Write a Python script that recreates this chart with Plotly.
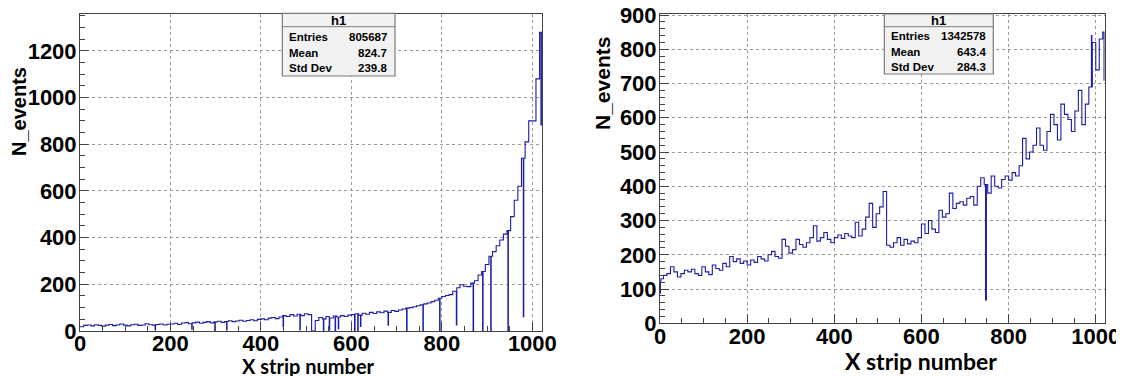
import numpy as np
import plotly.graph_objects as go

# ---------------- data (counts per 8-strip group) -------------
BIN = 8
left_counts = [
    18, 24, 26, 22, 27, 24, 21, 25, 28, 23, 26, 30, 25, 22, 27, 29,
    24, 26, 31, 27, 25, 28, 30, 26, 29, 30, 33, 28, 34, 36, 31, 35,
    38, 33, 37, 40, 35, 39, 42, 37, 41, 44, 40, 43, 46, 42, 45, 48,
    44, 50, 52, 48, 55, 58, 53, 60, 66, 62, 70, 64, 72, 66, 74, 70,
    0, 45, 58, 52, 62, 56, 64, 60, 66, 62, 68, 70, 74, 68, 76, 72,
    80, 75, 82, 78, 85, 80, 88, 84, 90, 94, 98, 100, 104, 108, 112, 116,
    120, 126, 132, 140, 148, 152, 156, 170, 185, 198, 192, 190, 205, 215, 240, 255,
    285, 320, 340, 365, 390, 415, 430, 490, 560, 620, 740, 810, 900, 900, 1080, 1280,
]
left_dip_strips = [166, 247, 298, 324, 449, 486, 538, 551, 564, 571, 607, 614, 620,
                   681, 722, 758, 795, 832, 869, 890, 908, 946, 980, 1019]
left_dip_values = [5, 8, 0, 5, 20, 5, 0, 5, 0, 10, 0, 0, 20,
                   25, 0, 0, 0, 26, 0, 0, 0, 0, 61, 883]

right_counts = [
    130, 140, 145, 165, 150, 135, 145, 155, 150, 158, 145, 140, 165, 150, 142, 170,
    160, 155, 175, 165, 195, 180, 188, 175, 182, 170, 185, 178, 195, 188, 182, 200,
    210, 195, 190, 245, 225, 205, 215, 245, 230, 222, 235, 250, 285, 240, 250, 265,
    245, 235, 250, 258, 248, 262, 255, 250, 295, 255, 275, 310, 350, 280, 320, 340,
    385, 228, 222, 235, 250, 228, 245, 232, 240, 235, 250, 290, 262, 300, 275, 265,
    330, 310, 320, 380, 335, 350, 355, 345, 365, 370, 345, 400, 425, 405, 380, 430,
    400, 395, 420, 430, 418, 440, 430, 460, 540, 480, 500, 520, 570, 520, 505, 560,
    610, 580, 535, 640, 610, 595, 560, 620, 680, 580, 640, 690, 820, 740, 830, 850,
]
right_dip_strips = [0, 1, 747, 748, 990, 1019]
right_dip_values = [88, 120, 68, 68, 840, 710]

left_stats = [("Entries", "805687"), ("Mean", "824.7"), ("Std Dev", "239.8")]
right_stats = [("Entries", "1342578"), ("Mean", "643.4"), ("Std Dev", "284.3")]

x_title = "X strip number"
y_title = "N_events"

# ---------------- build histograms ----------------
def build(counts, strips, values):
    y = np.repeat(np.array(counts, dtype=float), BIN)
    for s, v in zip(strips, values):
        y[s] = v
    x = np.arange(len(y) + 1)
    y = np.append(y, y[-1])
    return x, y

# the page body has an 8px margin: size the figure so it fills the window
OFF = 8
W, H = 1124 - OFF, 376 - OFF
LINE = "#1c1ca6"
AXC = "#444444"


def px(x):
    return (x - OFF) / W


def py(y):
    return 1 - (y - OFF) / H


fig = go.Figure()
lx, ly = build(left_counts, left_dip_strips, left_dip_values)
rx, ry = build(right_counts, right_dip_strips, right_dip_values)
fig.add_trace(go.Scatter(x=lx, y=ly, mode="lines", line=dict(shape="hv", color=LINE, width=1.1),
                         xaxis="x", yaxis="y", showlegend=False, hoverinfo="skip"))
fig.add_trace(go.Scatter(x=rx, y=ry, mode="lines", line=dict(shape="hv", color=LINE, width=1.1),
                         xaxis="x2", yaxis="y2", showlegend=False, hoverinfo="skip"))

tickfont = dict(family="Liberation Sans, Arial, sans-serif", size=22, color="black", weight="bold")


def xax(domain, rng, anchor):
    return dict(domain=domain, range=rng, anchor=anchor, showline=True, mirror=True,
                automargin=False, ticklabelstandoff=-7, ticklabeloverflow="allow",
                linecolor=AXC, linewidth=1, ticks="inside", ticklen=9, tickwidth=1,
                tickcolor=AXC, tick0=0, dtick=200, showgrid=True, gridcolor="#9a9a9a",
                griddash="dot", gridwidth=1, zeroline=False, tickfont=tickfont,
                minor=dict(ticks="inside", ticklen=5, dtick=50, tick0=0, tickcolor=AXC,
                           showgrid=False))


def yax(domain, rng, anchor, dtick, mdtick):
    return dict(domain=domain, range=rng, anchor=anchor, showline=True, mirror=True,
                automargin=False, ticklabelstandoff=-2, ticklabeloverflow="allow",
                linecolor=AXC, linewidth=1, ticks="inside", ticklen=9, tickwidth=1,
                tickcolor=AXC, tick0=0, dtick=dtick, showgrid=True, gridcolor="#9a9a9a",
                griddash="dot", gridwidth=1, zeroline=False, tickfont=tickfont,
                minor=dict(ticks="inside", ticklen=5, dtick=mdtick, tick0=0, tickcolor=AXC,
                           showgrid=False))


fig.update_layout(
    width=W, height=H, margin=dict(l=0, r=0, t=0, b=0, autoexpand=False),
    paper_bgcolor="white", plot_bgcolor="white",
    xaxis=xax([px(80), px(542.3)], [0, 1022], "y"),
    yaxis=yax([py(331), py(14)], [0, 1358], "x", 200, 50),
    xaxis2=xax([px(660), px(1104.5)], [0, 1020], "y2"),
    yaxis2=yax([py(323.3), py(14)], [0, 903], "x2", 100, 20),
)

shapes = []
annotations = []

# axis titles
title_font = dict(family="Lato, Open Sans, sans-serif", size=20, color="black", weight="bold")
annotations.append(dict(text=x_title, x=px(308), y=py(366), xref="paper", yref="paper",
                        showarrow=False, font=title_font, xanchor="center", yanchor="middle"))
annotations.append(dict(text=x_title, x=px(921), y=py(361), xref="paper", yref="paper",
                        showarrow=False, font=dict(title_font, size=23), xanchor="center",
                        yanchor="middle"))
yfont = dict(family="Liberation Sans, Arial, sans-serif", size=20, color="black", weight="bold")
annotations.append(dict(text=y_title, x=px(19), y=py(112), xref="paper", yref="paper",
                        showarrow=False, font=yfont, textangle=-90, xanchor="center",
                        yanchor="middle"))
annotations.append(dict(text=y_title, x=px(602), y=py(84), xref="paper", yref="paper",
                        showarrow=False, font=dict(yfont, size=21), textangle=-90,
                        xanchor="center", yanchor="middle"))

# stats boxes
sfont = dict(family="Liberation Sans, Arial, sans-serif", size=11.5, color="black", weight="bold")


def stats_box(x0, x1, y0, y1, hline, rows, rows_y, tx0, tx1):
    shapes.append(dict(type="rect", xref="paper", yref="paper", x0=px(x0), x1=px(x1),
                       y0=py(y1), y1=py(y0), fillcolor="#f2f2f2",
                       line=dict(color="#7a7a7a", width=1.2), layer="above"))
    shapes.append(dict(type="line", xref="paper", yref="paper", x0=px(x0), x1=px(x1),
                       y0=py(hline), y1=py(hline), line=dict(color="#7a7a7a", width=1),
                       layer="above"))
    annotations.append(dict(text="h1", x=px((x0 + x1) / 2), y=py((y0 + hline) / 2),
                            xref="paper", yref="paper", showarrow=False,
                            font=dict(sfont, size=13), xanchor="center", yanchor="middle"))
    for (k, v), yy in zip(rows, rows_y):
        annotations.append(dict(text=k, x=px(tx0), y=py(yy), xref="paper", yref="paper",
                                showarrow=False, font=sfont, xanchor="left", yanchor="middle"))
        annotations.append(dict(text=v, x=px(tx1), y=py(yy), xref="paper", yref="paper",
                                showarrow=False, font=sfont, xanchor="right", yanchor="middle"))


stats_box(282.3, 395, 13.3, 76, 26.7, left_stats, [36.7, 52.5, 68.3], 287.3, 388.5)
stats_box(884.3, 993.3, 14, 74, 26.7, right_stats, [36, 51.7, 67.3], 889.3, 987.5)

fig.update_layout(shapes=shapes, annotations=annotations)
fig.write_html("out.html")
